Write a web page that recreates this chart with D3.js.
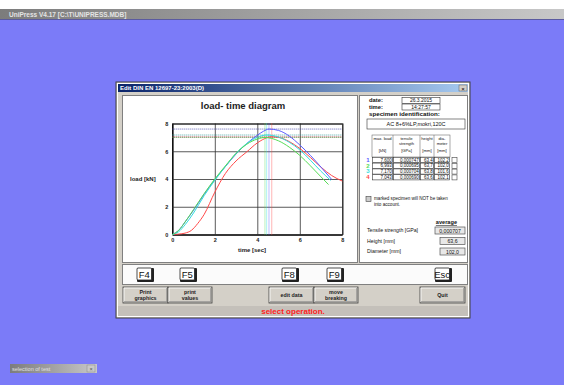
<!DOCTYPE html>
<html><head><meta charset="utf-8">
<script src="https://cdn.jsdelivr.net/npm/d3@7"></script>
<style>body{margin:0;background:#7b7bf8;overflow:hidden}svg{display:block}text{font-family:"Liberation Sans",Arial,sans-serif}</style>
</head><body><svg id="c" width="564" height="385"></svg>
<script>
// ---- data ----
const seriesColors = ["#5b5bff", "#55dd55", "#33dede", "#ff4848"];
const timeBlue  = [0,0.3,0.6,1.0,1.5,2.0,2.5,3.0,3.5,4.0,4.3,4.55,5.0,5.5,6.0,6.5,7.0,7.5];
const loadBlue  = [0,0.3,0.9,1.75,2.9,3.95,4.9,5.8,6.55,7.15,7.45,7.6,7.5,7.1,6.45,5.7,4.85,3.97];
const timeGreen = [0,0.3,0.6,1.0,1.5,2.0,2.5,3.0,3.5,4.0,4.36,5.0,5.5,6.0,6.5,7.0,7.35];
const loadGreen = [0,0.3,0.9,1.8,2.95,4.0,4.95,5.85,6.5,6.88,6.99,6.75,6.3,5.7,4.95,4.15,3.6];
const timeCyan  = [0,0.3,0.6,1.0,1.5,2.0,2.5,3.0,3.5,4.0,4.44,5.0,5.5,6.0,6.5,7.0,7.45];
const loadCyan  = [0,0.2,0.7,1.55,2.8,3.9,4.9,5.85,6.55,7.0,7.17,7.02,6.65,6.1,5.35,4.55,3.9];
const timeRed   = [0,0.3,0.6,0.9,1.2,1.5,2.0,2.5,3.0,3.5,4.0,4.68,5.0,5.5,6.0,6.5,7.0,7.5,8.0];
const loadRed   = [0,0.03,0.1,0.3,0.8,1.45,3.05,4.4,5.3,5.95,6.6,7.04,7.0,6.7,6.2,5.55,4.85,4.25,3.85];
const peakTime  = [4.55, 4.36, 4.44, 4.68];
const maxLoadVal = [7.600, 6.993, 7.170, 7.043];
const xTicks = [0,2,4,6,8];
const yTicks = [0,2,4,6,8];
const maxLoadTxt = ["7,600","6,993","7,170","7,043"];
const tensileTxt = ["0,000747","0,000695","0,000704","0,000690"];
const heightTxt  = ["63,4","63,7","63,8","63,6"];
const diamTxt    = ["102,2","102,0","101,6","102,1"];
const avgLabels  = ["Tensile strength [GPa]","Height [mm]","Diameter [mm]"];
const avgValues  = ["0,000707","63,6","102,0"];

const svg = d3.select("#c");
const defs = svg.append("defs");
function grad(id, c1, c2){
  const g = defs.append("linearGradient").attr("id", id);
  g.append("stop").attr("offset","0").attr("stop-color",c1);
  g.append("stop").attr("offset","1").attr("stop-color",c2);
}
grad("appt","#7c7c7c","#c8c8c8");
grad("dlgt","#0a246a","#a6caf0");

// background
svg.append("rect").attr("width",564).attr("height",385).attr("fill","#7b7bf8");
svg.append("rect").attr("width",564).attr("height",9).attr("fill","#ffffff");
svg.append("rect").attr("y",9).attr("width",564).attr("height",10).attr("fill","url(#appt)");
svg.append("rect").attr("y",19).attr("width",564).attr("height",1).attr("fill","#5a5aa0");
svg.append("text").attr("x",9).attr("y",16.5).attr("font-size",6.5).attr("fill","#e4e4e4").attr("font-weight","bold")
  .text("UniPress V4.17 [C:\\T\\UNIPRESS.MDB]");

// bottom-left minimized window
svg.append("rect").attr("x",10).attr("y",364).attr("width",87).attr("height",9).attr("fill","url(#appt)");
svg.append("text").attr("x",12).attr("y",370.5).attr("font-size",5.5).attr("fill","#e0e0e0").text("selection of test");
svg.append("rect").attr("x",87).attr("y",365).attr("width",8).attr("height",7).attr("fill","#c8c8c8").attr("stroke","#888").attr("stroke-width",0.5);
svg.append("text").attr("x",91).attr("y",370.5).attr("font-size",5.5).attr("text-anchor","middle").attr("fill","#555").text("×");

// dialog
svg.append("rect").attr("x",116).attr("y",82).attr("width",354).attr("height",236).attr("fill","#d4d0c8").attr("stroke","#404040").attr("stroke-width",1);
svg.append("rect").attr("x",117.5).attr("y",83.5).attr("width",351).attr("height",233).attr("fill","none").attr("stroke","#ffffff").attr("stroke-width",1);
svg.append("rect").attr("x",118).attr("y",84).attr("width",350).attr("height",8).attr("fill","url(#dlgt)");
svg.append("text").attr("x",120).attr("y",90.3).attr("font-size",6).attr("font-weight","bold").attr("fill","#fff").text("Edit DIN EN 12697-23:2003(D)");
svg.append("rect").attr("x",459).attr("y",85).attr("width",8).attr("height",6).attr("fill","#d4d0c8").attr("stroke","#606060").attr("stroke-width",0.5);
svg.append("text").attr("x",463).attr("y",90.5).attr("font-size",6).attr("text-anchor","middle").attr("fill","#000").text("×");

function panel(x,y,w,h,fill){
  svg.append("rect").attr("x",x).attr("y",y).attr("width",w).attr("height",h).attr("fill",fill||"#fff")
    .attr("stroke","#808080").attr("stroke-width",1);
}
panel(122.5,95.5,235,167);
panel(359.5,95.5,108,167);
panel(122.5,264.5,345,20,"#fbfbfb");

// ---- chart ----
const x = d3.scaleLinear().domain([0,8]).range([172.3,342.3]);
const y = d3.scaleLinear().domain([0,8]).range([234.5,123.5]);

svg.append("text").attr("x",243).attr("y",109).attr("text-anchor","middle").attr("font-size",9.5).attr("font-weight","bold").attr("fill","#222").text("load- time diagram");

const gx = svg.append("g").attr("transform",`translate(0,${y(0)})`)
  .call(d3.axisBottom(x).tickValues(xTicks).tickSize(-(y(0)-y(8))).tickFormat(d3.format("d")));
const gy = svg.append("g").attr("transform",`translate(${x(0)},0)`)
  .call(d3.axisLeft(y).tickValues(yTicks).tickSize(-(x(8)-x(0))).tickFormat(d3.format("d")));
[gx,gy].forEach(g=>{
  g.select(".domain").attr("stroke","#000").attr("stroke-width",1);
  g.selectAll(".tick line").attr("stroke","#303030").attr("stroke-width",0.8);
  g.selectAll(".tick text").attr("font-size",5.5).attr("font-weight","bold").attr("fill","#222");
});
gx.selectAll(".tick text").attr("dy",0).attr("y",7);
gy.selectAll(".tick text").attr("x",-4).attr("dy","0.32em");

svg.append("text").attr("x",252).attr("y",252).attr("text-anchor","middle").attr("font-size",6).attr("font-weight","bold").attr("fill","#222").text("time [sec]");
svg.append("text").attr("x",130).attr("y",181).attr("font-size",6).attr("font-weight","bold").attr("fill","#222").text("load [kN]");

// dotted max lines
const dotG = svg.append("g");
maxLoadVal.forEach((v,i)=>{
  dotG.append("line").attr("x1",x(0)).attr("x2",x(8)).attr("y1",y(v)).attr("y2",y(v))
    .attr("stroke",d3.color(seriesColors[i]).darker(1.2)).attr("stroke-width",0.8).attr("stroke-dasharray","1,1");
  dotG.append("line").attr("x1",x(peakTime[i])).attr("x2",x(peakTime[i])).attr("y1",y(0)).attr("y2",y(8))
    .attr("stroke",seriesColors[i]).attr("stroke-width",0.8).attr("stroke-dasharray","1,1");
});

const series = [[timeBlue,loadBlue],[timeGreen,loadGreen],[timeCyan,loadCyan],[timeRed,loadRed]];
const line = d3.line().x(d=>x(d[0])).y(d=>y(d[1])).curve(d3.curveMonotoneX);
const order = [3,0,2,1];
order.forEach(i=>{
  const pts = series[i][0].map((t,k)=>[t,series[i][1][k]]);
  svg.append("path").attr("d",line(pts)).attr("fill","none").attr("stroke",seriesColors[i]).attr("stroke-width",1);
});

// ---- right panel ----
const R = svg.append("g").attr("font-size",5.5).attr("fill","#111");
function boxText(x0,y0,w,h,txt,fs){
  R.append("rect").attr("x",x0).attr("y",y0).attr("width",w).attr("height",h).attr("fill","#fff").attr("stroke","#333").attr("stroke-width",0.6);
  R.append("text").attr("x",x0+w/2).attr("y",y0+h/2+1.8).attr("text-anchor","middle").attr("font-size",fs||5).text(txt);
}
R.append("text").attr("x",369).attr("y",102).attr("font-weight","bold").attr("font-size",5.8).text("date:");
R.append("text").attr("x",369).attr("y",108.5).attr("font-weight","bold").attr("font-size",5.8).text("time:");
boxText(402,97.5,38,6,"26.3.2015");
boxText(402,104,38,6,"14:27:57");
R.append("text").attr("x",369).attr("y",116).attr("font-weight","bold").attr("font-size",6.2).text("specimen identification:");
boxText(367,119,98,10,"AC 8+6%LP,mokri,120C",5.5);

// table
const colX = [372,393,420,434,450];
const tY0 = 135, hdrH = 22, rowH = 5.8;
R.append("rect").attr("x",colX[0]).attr("y",tY0).attr("width",colX[4]-colX[0]).attr("height",hdrH).attr("fill","#fff").attr("stroke","#555").attr("stroke-width",0.5);
const headers = [["max. load","","[kN]"],["tensile","strength","[GPa]"],["height","","[mm]"],["dia-","meter","[mm]"]];
headers.forEach((h,j)=>{
  if(j>0) R.append("line").attr("x1",colX[j]).attr("x2",colX[j]).attr("y1",tY0).attr("y2",tY0+hdrH+4*rowH).attr("stroke","#555").attr("stroke-width",0.5);
  const cx = (colX[j]+colX[j+1])/2;
  R.append("text").attr("x",cx).attr("y",tY0+5).attr("text-anchor","middle").attr("font-size",4.2).text(h[0]);
  if(h[1]) R.append("text").attr("x",cx).attr("y",tY0+10).attr("text-anchor","middle").attr("font-size",4.2).text(h[1]);
  R.append("text").attr("x",cx).attr("y",tY0+17).attr("text-anchor","middle").attr("font-size",4.2).text(h[2]);
});
const rowsTxt = [maxLoadTxt,tensileTxt,heightTxt,diamTxt];
for(let r=0;r<4;r++){
  const ry = tY0+hdrH+r*rowH;
  R.append("text").attr("x",368).attr("y",ry+rowH-1).attr("font-weight","bold").attr("font-size",6).attr("fill",seriesColors[r]).attr("text-anchor","middle").text(String(r+1));
  for(let j=0;j<4;j++){
    R.append("rect").attr("x",colX[j]+0.5).attr("y",ry+0.3).attr("width",colX[j+1]-colX[j]-1).attr("height",rowH-0.6).attr("fill","#fff").attr("stroke","#333").attr("stroke-width",0.6);
    R.append("text").attr("x",colX[j+1]-1.2).attr("y",ry+rowH-1.3).attr("text-anchor","end").attr("font-size",4.5).text(rowsTxt[j][r]);
  }
  R.append("rect").attr("x",452).attr("y",ry+0.5).attr("width",5).attr("height",5).attr("fill","#fff").attr("stroke","#444").attr("stroke-width",0.6);
}
R.append("rect").attr("x",366).attr("y",196.5).attr("width",5).attr("height",5).attr("fill","#ccc").attr("stroke","#444").attr("stroke-width",0.6);
R.append("text").attr("x",374).attr("y",200).attr("font-size",4.6).text("marked specimen will NOT be taken");
R.append("text").attr("x",374).attr("y",205.5).attr("font-size",4.6).text("into account.");

R.append("text").attr("x",457).attr("y",224).attr("text-anchor","end").attr("font-weight","bold").attr("font-size",5.6).attr("text-decoration","underline").text("average");
avgLabels.forEach((l,i)=>{
  const yy = 232 + i*10.5;
  R.append("text").attr("x",367).attr("y",yy).attr("font-size",5.2).text(l);
  const w = i===0?30:25;
  R.append("rect").attr("x",465-w).attr("y",yy-5).attr("width",w).attr("height",7).attr("fill","#e8e8e8").attr("stroke","#555").attr("stroke-width",0.7);
  R.append("text").attr("x",465-w/2).attr("y",yy+0.5).attr("text-anchor","middle").attr("font-size",5.2).text(avgValues[i]);
});

// ---- keys & buttons ----
function key(cx, label){
  svg.append("rect").attr("x",cx-8).attr("y",268).attr("width",17).attr("height",14).attr("rx",1).attr("fill","#222");
  svg.append("rect").attr("x",cx-8).attr("y",268).attr("width",14.5).attr("height",12).attr("rx",1).attr("fill","#fff").attr("stroke","#222").attr("stroke-width",0.8);
  svg.append("text").attr("x",cx-0.8).attr("y",278).attr("text-anchor","middle").attr("font-size",9.5).attr("fill","#111").text(label);
}
key(145,"F4"); key(188,"F5"); key(290,"F8"); key(335,"F9"); key(443,"Esc");

function button(x0,w,lines){
  const y0=287,h=16;
  svg.append("rect").attr("x",x0).attr("y",y0).attr("width",w).attr("height",h).attr("fill","#d4d0c8").attr("stroke","#404040").attr("stroke-width",0.8);
  svg.append("path").attr("d",`M${x0+1},${y0+h-1}V${y0+1}H${x0+w-1}`).attr("fill","none").attr("stroke","#fff").attr("stroke-width",0.8);
  svg.append("path").attr("d",`M${x0+1},${y0+h-1.2}H${x0+w-1.2}V${y0+1}`).attr("fill","none").attr("stroke","#808080").attr("stroke-width",0.8);
  lines.forEach((t,i)=>{
    svg.append("text").attr("x",x0+w/2).attr("y",lines.length===1?y0+10:y0+7+i*5.5).attr("text-anchor","middle").attr("font-size",5.3).attr("font-weight","bold").attr("fill","#222").text(t);
  });
}
button(123,45,["Print","graphics"]);
button(168,44,["print","values"]);
button(269,45,["edit data"]);
button(314,44,["move","breaking"]);
button(420,45,["Quit"]);

// status bar
svg.append("rect").attr("x",118).attr("y",306).attr("width",350).attr("height",10).attr("fill","#c4c0ba");
svg.append("text").attr("x",293).attr("y",314).attr("text-anchor","middle").attr("font-size",8).attr("font-weight","bold").attr("fill","#ff2020").text("select operation.");
</script></body></html>
